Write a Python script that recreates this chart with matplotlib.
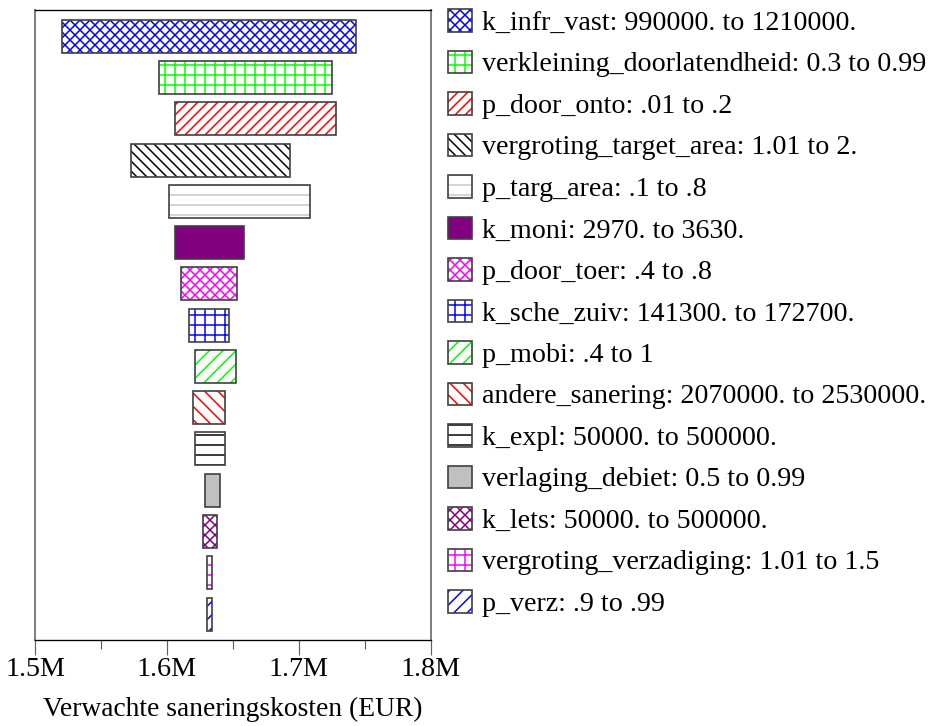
import matplotlib.pyplot as plt
from matplotlib.patches import Patch
from matplotlib.legend_handler import HandlerTuple
from matplotlib.ticker import FuncFormatter, MultipleLocator

plt.rcParams['font.family'] = ['Liberation Serif', 'DejaVu Serif']
plt.rcParams['hatch.linewidth'] = 0.9

# parameters, tested ranges and resulting cost range (EUR), top to bottom
params = ['k_infr_vast', 'verkleining_doorlatendheid', 'p_door_onto',
          'vergroting_target_area', 'p_targ_area', 'k_moni', 'p_door_toer',
          'k_sche_zuiv', 'p_mobi', 'andere_sanering', 'k_expl',
          'verlaging_debiet', 'k_lets', 'vergroting_verzadiging', 'p_verz']
ranges = ['990000. to 1210000.', '0.3 to 0.99', '.01 to .2', '1.01 to 2.',
          '.1 to .8', '2970. to 3630.', '.4 to .8', '141300. to 172700.',
          '.4 to 1', '2070000. to 2530000.', '50000. to 500000.',
          '0.5 to 0.99', '50000. to 500000.', '1.01 to 1.5', '.9 to .99']
cost_low = [1520800, 1593800, 1605900, 1572800, 1601900, 1606200, 1610800,
            1616900, 1621400, 1619900, 1621400, 1628800, 1627500, 1630500,
            1630500]
cost_high = [1743600, 1725300, 1728400, 1693200, 1708400, 1658400, 1653600,
             1647500, 1652300, 1644500, 1644500, 1640200, 1638400, 1634100,
             1634100]

# fill / hatch styling per bar (diagonal hatches need twice the characters
# to get the same spacing as the straight ones)
fills = ['white'] * 15
fills[5] = '#800080'
fills[11] = '#c0c0c0'
hatches = ['xxxx', '++', '////', '\\\\\\\\', '--', None, 'xxxx', '++',
           '///', '\\\\\\', '--', None, 'xxxx', '++', '///']
hatch_colors = ['#0000ff', '#00ff00', '#ff0000', '#000000', '#c8c8c8', 'none',
                '#ff00ff', '#0000ff', '#00ff00', '#ff0000', '#000000', 'none',
                '#800080', '#ff00ff', '#0000ff']
edge = '#404040'

fig = plt.figure(figsize=(7.75, 6.05), dpi=120)
ax = fig.add_axes([35 / 930, 86 / 726, 395.5 / 930, 630 / 726])

n = len(params)
ypos = [n - 1 - i for i in range(n)]
widths = [h - l for l, h in zip(cost_low, cost_high)]

handles = []
for i in range(n):
    ax.barh(ypos[i], widths[i], left=cost_low[i], height=0.8,
            color=fills[i], edgecolor=hatch_colors[i], hatch=hatches[i],
            linewidth=0)
    ax.barh(ypos[i], widths[i], left=cost_low[i], height=0.8,
            fill=False, edgecolor=edge, linewidth=1.0)
    h1 = Patch(facecolor=fills[i], edgecolor=hatch_colors[i],
               hatch=hatches[i], linewidth=0)
    h2 = Patch(fill=False, edgecolor=edge, linewidth=1.0)
    handles.append((h1, h2))

ax.set_xlim(1500000, 1800000)
ax.set_ylim(-0.63, n - 1 + 0.64)
ax.xaxis.set_major_locator(MultipleLocator(100000))
ax.xaxis.set_minor_locator(MultipleLocator(50000))
ax.xaxis.set_major_formatter(FuncFormatter(lambda v, p: f'{v / 1e6:.1f}M'))
ax.set_yticks([])
ax.tick_params(axis='x', which='major', length=9, width=0.7, color='#606060',
               labelsize=16.8, pad=1)
ax.tick_params(axis='x', which='minor', length=5.4, width=0.7, color='#606060')

for s in ['left', 'right']:
    ax.spines[s].set_color('#808080')
    ax.spines[s].set_linewidth(1.2)
for s in ['top', 'bottom']:
    ax.spines[s].set_color('black')
    ax.spines[s].set_linewidth(0.8)

ax.set_xlabel('Verwachte saneringskosten (EUR)', fontsize=16.5, labelpad=9)

labels = [f'{p}: {r}' for p, r in zip(params, ranges)]
fig.legend(handles, labels, loc='upper left',
           bbox_to_anchor=(448 / 930, 1 - 9 / 726), frameon=False,
           fontsize=16.8, borderpad=0, borderaxespad=0,
           handlelength=0.86, handleheight=0.86, handletextpad=0.36,
           labelspacing=0.52,
           handler_map={tuple: HandlerTuple(ndivide=1, pad=0)})

fig.savefig('out.png', dpi=120)
